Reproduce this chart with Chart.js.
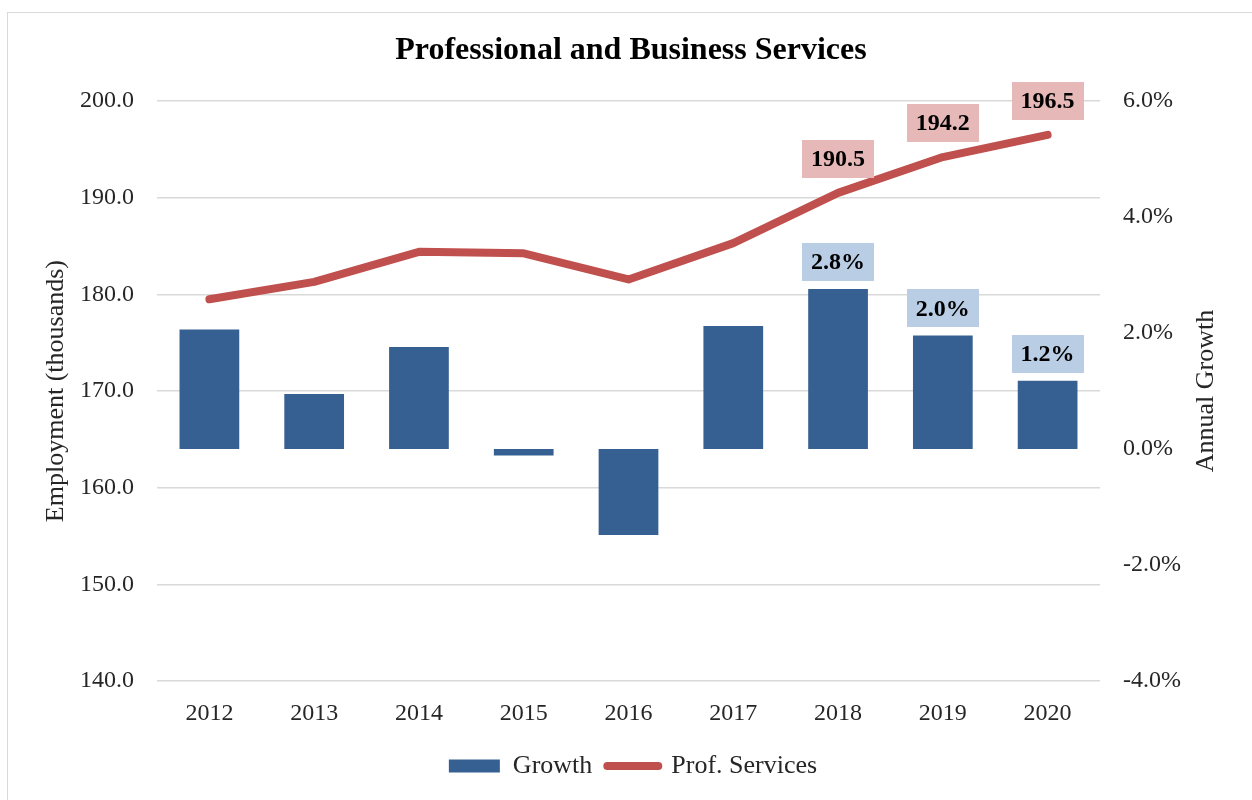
<!DOCTYPE html>
<html>
<head>
<meta charset="utf-8">
<script src="https://cdn.jsdelivr.net/npm/chart.js@4.4.1/dist/chart.umd.min.js"></script>
<style>
  html, body { margin: 0; padding: 0; background: #fff; }
  #wrap { position: relative; width: 1252px; height: 800px; overflow: hidden; }
  #frame { position: absolute; left: 7px; top: 12px; width: 1280px; height: 830px; border: 1px solid #d9d9d9; }
  #c { position: absolute; left: 0; top: 0; }
</style>
</head>
<body>
<div id="wrap">
  <div id="frame"></div>
  <canvas id="c" width="1252" height="800"></canvas>
</div>
<script>
  // Employment in professional & business services, with year-over-year growth
  var years = ["2012", "2013", "2014", "2015", "2016", "2017", "2018", "2019", "2020"];
  var growth = [2.06, 0.95, 1.76, -0.11, -1.48, 2.12, 2.76, 1.96, 1.18];          // %
  var employment = [179.5, 181.3, 184.4, 184.25, 181.55, 185.3, 190.5, 194.2, 196.5]; // thousands
  var labelledYears = [6, 7, 8]; // points that carry a value box

  var employmentRange = [140, 200, 10];
  var growthRange = [-4, 6, 2];

  var FONT = '"Liberation Serif", "DejaVu Serif", serif';
  var COL = {
    bar: "#366092",
    line: "#C0504D",
    barBox: "#B9CDE5",
    lineBox: "#E6B9B8",
    grid: "#d9d9d9",
    text: "#262626",
  };

  function valueBox(ctx, cx, cy, text, fill) {
    ctx.font = "bold 24px " + FONT;
    var w = ctx.measureText(text).width + 18, h = 38;
    ctx.fillStyle = fill;
    ctx.fillRect(Math.round(cx - w / 2), Math.round(cy - h / 2), Math.round(w), h);
    ctx.fillStyle = "#000";
    ctx.textAlign = "center";
    ctx.textBaseline = "middle";
    ctx.fillText(text, cx, cy + 1);
  }

  // title, rotated axis titles and the value boxes
  var annotate = {
    id: "annotate",
    afterDatasetsDraw: function (chart) {
      var ctx = chart.ctx;
      var bars = chart.getDatasetMeta(0).data;
      var pts = chart.getDatasetMeta(1).data;
      ctx.save();
      labelledYears.forEach(function (i) {
        valueBox(ctx, pts[i].x, pts[i].y - 34, employment[i].toFixed(1), COL.lineBox);
        valueBox(ctx, bars[i].x, bars[i].y - 27, growth[i].toFixed(1) + "%", COL.barBox);
      });
      ctx.restore();
    },
    afterDraw: function (chart) {
      var ctx = chart.ctx, area = chart.chartArea;
      var midY = (area.top + area.bottom) / 2;
      ctx.save();
      ctx.fillStyle = "#000";
      ctx.textAlign = "center";
      ctx.textBaseline = "middle";
      ctx.font = "bold 32px " + FONT;
      ctx.fillText("Professional and Business Services", 631, 51);

      ctx.fillStyle = COL.text;
      ctx.font = "26px " + FONT;
      ctx.save();
      ctx.translate(56, midY);
      ctx.rotate(-Math.PI / 2);
      ctx.fillText("Employment (thousands)", 0, 0);
      ctx.restore();
      ctx.save();
      ctx.translate(1206, midY);
      ctx.rotate(-Math.PI / 2);
      ctx.fillText("Annual Growth", 0, 0);
      ctx.restore();
      ctx.restore();
    },
  };

  new Chart(document.getElementById("c").getContext("2d"), {
    data: {
      labels: years,
      datasets: [
        {
          type: "bar",
          label: "Growth",
          data: growth,
          yAxisID: "yGrowth",
          backgroundColor: COL.bar,
          categoryPercentage: 1,
          barPercentage: 0.57,
          order: 1,
        },
        {
          type: "line",
          label: "Prof. Services",
          data: employment,
          yAxisID: "yEmp",
          borderColor: COL.line,
          borderWidth: 8,
          borderCapStyle: "round",
          borderJoinStyle: "round",
          pointRadius: 0,
          tension: 0,
          order: 0,
        },
      ],
    },
    options: {
      responsive: false,
      animation: false,
      layout: { padding: { top: 101, bottom: 11, left: 14, right: 0 } },
      plugins: {
        tooltip: { enabled: false },
        title: { display: false },
        legend: {
          position: "bottom",
          labels: {
            color: COL.text,
            font: { family: FONT, size: 26 },
            usePointStyle: true,
            pointStyleWidth: 51,
            boxHeight: 13,
            padding: 15,
            generateLabels: function () {
              return [
                { text: "Growth", pointStyle: "rect", fillStyle: COL.bar, strokeStyle: COL.bar, lineWidth: 0, fontColor: COL.text, datasetIndex: 0 },
                { text: "Prof. Services", pointStyle: "line", fillStyle: COL.line, strokeStyle: COL.line, lineWidth: 8, lineCap: "round", fontColor: COL.text, datasetIndex: 1 },
              ];
            },
          },
        },
      },
      scales: {
        x: {
          grid: { display: false },
          border: { display: false },
          ticks: { color: COL.text, font: { family: FONT, size: 24 }, padding: 10 },
        },
        yEmp: {
          position: "left",
          min: employmentRange[0],
          max: employmentRange[1],
          ticks: {
            stepSize: employmentRange[2],
            color: COL.text,
            font: { family: FONT, size: 24 },
            padding: 23,
            callback: function (v) { return v.toFixed(1); },
          },
          grid: { color: COL.grid, lineWidth: 1.5, drawTicks: false },
          border: { display: false },
          afterFit: function (s) { s.width = 143; },
        },
        yGrowth: {
          position: "right",
          min: growthRange[0],
          max: growthRange[1],
          ticks: {
            stepSize: growthRange[2],
            color: COL.text,
            font: { family: FONT, size: 24 },
            padding: 23,
            callback: function (v) { return v.toFixed(1) + "%"; },
          },
          grid: { display: false, drawTicks: false },
          border: { display: false },
          afterFit: function (s) { s.width = 152; },
        },
      },
    },
    plugins: [annotate],
  });
</script>
</body>
</html>
